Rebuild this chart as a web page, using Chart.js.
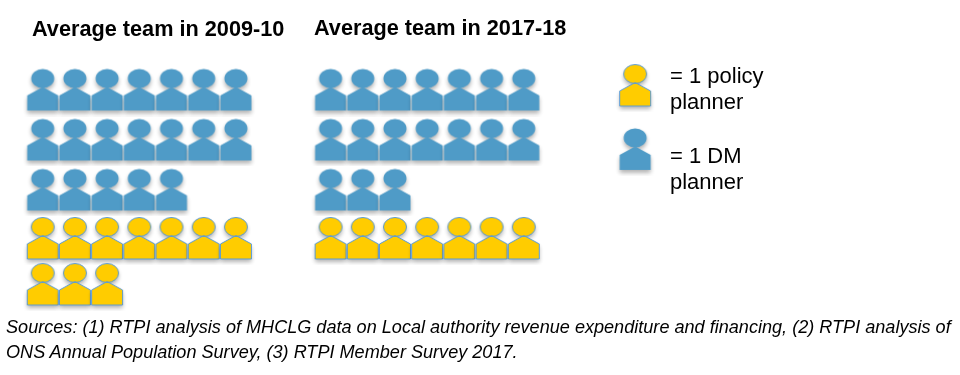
<!DOCTYPE html>
<html>
<head>
<meta charset="utf-8">
<title>Average planning team</title>
<script src="https://cdn.jsdelivr.net/npm/chart.js@4/dist/chart.umd.min.js"></script>
<style>
  html, body { margin: 0; padding: 0; background: #fff; }
  #wrap { position: relative; width: 960px; height: 375px; overflow: hidden; font-family: "Liberation Sans", Arial, sans-serif; color: #000; }
  #chart { position: absolute; left: 0; top: 0; }
  .t { position: absolute; white-space: nowrap; }
  .title { font-weight: bold; font-size: 21.7px; line-height: 24px; }
  .key { font-size: 22px; line-height: 26px; }
  .note { font-style: italic; font-size: 18.1px; line-height: 25px; }
</style>
</head>
<body>
<div id="wrap">
  <canvas id="chart" width="960" height="375"></canvas>
  <div class="t title" id="title0" style="left:32px;top:17px"></div>
  <div class="t title" id="title1" style="left:314px;top:16px"></div>
  <div class="t key" id="key0" style="left:670px;top:63px"></div>
  <div class="t key" id="key1" style="left:670px;top:143px"></div>
  <div class="t note" id="note" style="left:6px;top:315px"></div>
</div>
<script>
// values
const teams = ['Average team in 2009-10', 'Average team in 2017-18'];
const dmPlanners = [19, 17];
const policyPlanners = [10, 7];
const legendLabels = ['= 1 policy<br>planner', '= 1 DM<br>planner'];
const sourceNote = 'Sources: (1) RTPI analysis of MHCLG data on Local authority revenue expenditure and financing, (2) RTPI analysis of<br>ONS Annual Population Survey, (3) RTPI Member Survey 2017.';

// layout, in grid units: one column = one icon pitch
const perRow = 7;
const panelStart = [0, 8.94];
const policyFirstRow = 3;
const rowLines = [0, 1.01, 2.02, 3, 3.93];
const keyColumn = 18.4;
const keyRows = [-0.09, 1.2];

const blue = '#4f9bc7';
const yellow = '#ffcc00';

function iconPath(g) {
  g.beginPath();
  g.moveTo(22, 24.5);
  g.lineTo(37.5, 33);
  g.lineTo(37.5, 48);
  g.lineTo(6.5, 48);
  g.lineTo(6.5, 33);
  g.closePath();
  g.moveTo(33.5, 16);
  g.ellipse(22, 16, 11.5, 9.5, 0, 0, Math.PI * 2);
}

function makeIcon(fill, stroke) {
  const c = document.createElement('canvas');
  c.width = 44;
  c.height = 54;
  const g = c.getContext('2d');
  g.shadowColor = 'rgba(0,0,0,0.3)';
  g.shadowBlur = 4;
  g.shadowOffsetY = 3;
  g.fillStyle = fill;
  iconPath(g);
  g.fill();
  if (stroke) {
    g.shadowColor = 'transparent';
    g.strokeStyle = stroke;
    g.lineWidth = 1;
    iconPath(g);
    g.stroke();
  }
  return c;
}

// lays out n icons into rows of 7 from a starting row
function gridPoints(n, panel, firstRow) {
  const pts = [];
  for (let i = 0; i < n; i++) {
    pts.push({
      x: panelStart[panel] + (i % perRow),
      y: rowLines[firstRow + Math.floor(i / perRow)]
    });
  }
  return pts;
}

const dmPoints = dmPlanners.flatMap((n, p) => gridPoints(n, p, 0));
const policyPoints = policyPlanners.flatMap((n, p) => gridPoints(n, p, policyFirstRow));

teams.forEach((t, i) => { document.getElementById('title' + i).textContent = t; });
legendLabels.forEach((t, i) => { document.getElementById('key' + i).innerHTML = t; });
document.getElementById('note').innerHTML = sourceNote;

new Chart(document.getElementById('chart'), {
  type: 'scatter',
  data: {
    datasets: [
      { label: 'DM planner', data: dmPoints, pointStyle: makeIcon(blue) },
      { label: 'Policy planner', data: policyPoints, pointStyle: makeIcon(yellow, '#5b9bd5') },
      { label: 'Key policy', data: [{ x: keyColumn, y: keyRows[0] }], pointStyle: makeIcon(yellow, '#5b9bd5') },
      { label: 'Key DM', data: [{ x: keyColumn, y: keyRows[1] }], pointStyle: makeIcon(blue) }
    ]
  },
  options: {
    responsive: false,
    animation: false,
    layout: { padding: 0, autoPadding: false },
    plugins: { legend: { display: false }, tooltip: { enabled: false }, title: { display: false } },
    scales: {
      x: { display: false, min: -42.7 / 32.2, max: (960 - 42.7) / 32.2 },
      y: { display: false, reverse: true, min: -89.5 / 49.5, max: (375 - 89.5) / 49.5 }
    }
  }
});
</script>
</body>
</html>
